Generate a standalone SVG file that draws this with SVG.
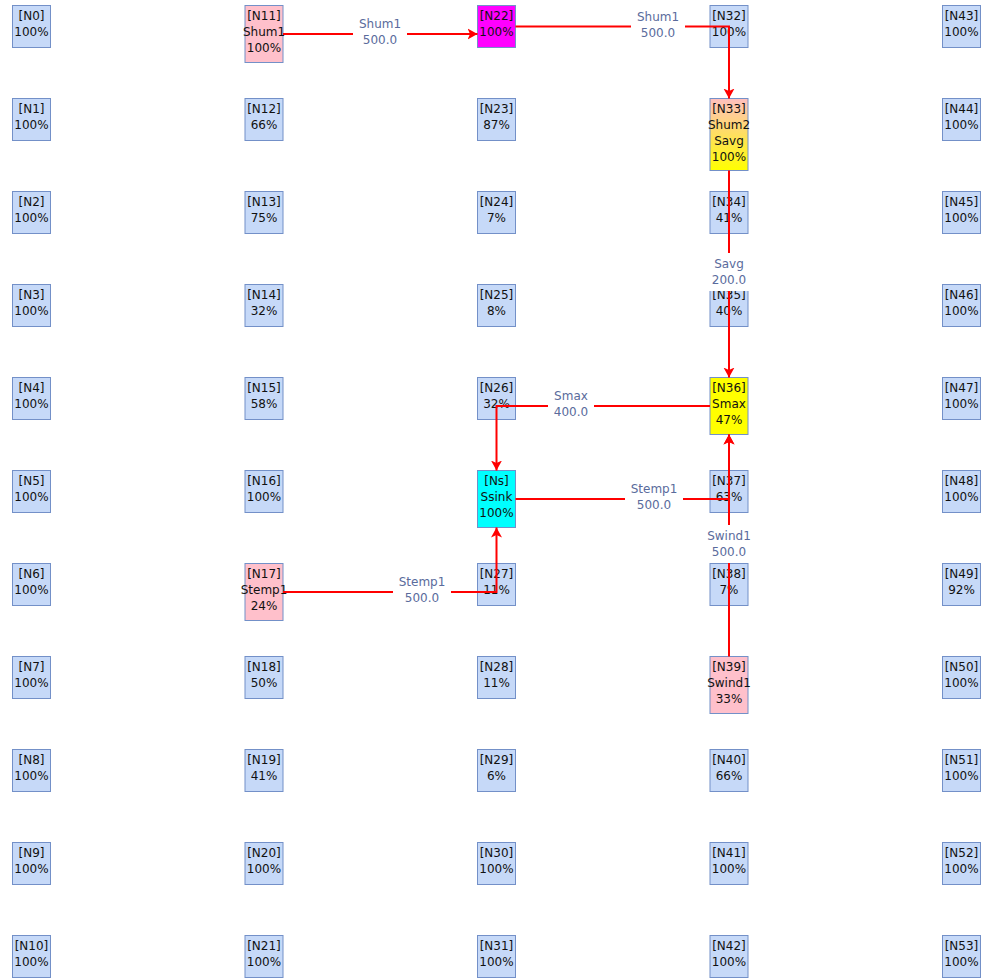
<svg xmlns="http://www.w3.org/2000/svg" width="981" height="980" viewBox="0 0 981 980">
<style>
.n rect{fill:#c6d9f8;stroke:#7390c8;stroke-width:1}
.n text{font-family:"DejaVu Sans",sans-serif;font-size:12px;fill:#111;text-anchor:middle}
.e{fill:none;stroke:#ff0000;stroke-width:2}
.lb rect{fill:#fff;stroke:none}
.lb text{font-family:"DejaVu Sans",sans-serif;font-size:12px;fill:#5a6b9c;text-anchor:middle}
</style>
<defs>
<marker id="ah" markerUnits="userSpaceOnUse" markerWidth="12" markerHeight="12" viewBox="0 -6 12 12" refX="10" refY="0" orient="auto">
<path d="M0,-5.5 L10,0 L0,5.5 L2.5,0 z" fill="#ff0000"/>
</marker>
<linearGradient id="g33" x1="0" y1="0" x2="0" y2="1">
<stop offset="0" stop-color="#ffbfc0"/>
<stop offset="1" stop-color="#ffff00"/>
</linearGradient>
</defs>
<rect width="981" height="980" fill="#fff"/>
<g id="nodes">
<g id="N0" class="n"><rect x="12.5" y="5.5" width="38" height="42"/><text x="31.5" y="20.3">[N0]</text><text x="31.5" y="36.3">100%</text></g>
<g id="N1" class="n"><rect x="12.5" y="98.5" width="38" height="42"/><text x="31.5" y="113.3">[N1]</text><text x="31.5" y="129.3">100%</text></g>
<g id="N2" class="n"><rect x="12.5" y="191.5" width="38" height="42"/><text x="31.5" y="206.3">[N2]</text><text x="31.5" y="222.3">100%</text></g>
<g id="N3" class="n"><rect x="12.5" y="284.5" width="38" height="42"/><text x="31.5" y="299.3">[N3]</text><text x="31.5" y="315.3">100%</text></g>
<g id="N4" class="n"><rect x="12.5" y="377.5" width="38" height="42"/><text x="31.5" y="392.3">[N4]</text><text x="31.5" y="408.3">100%</text></g>
<g id="N5" class="n"><rect x="12.5" y="470.5" width="38" height="42"/><text x="31.5" y="485.3">[N5]</text><text x="31.5" y="501.3">100%</text></g>
<g id="N6" class="n"><rect x="12.5" y="563.5" width="38" height="42"/><text x="31.5" y="578.3">[N6]</text><text x="31.5" y="594.3">100%</text></g>
<g id="N7" class="n"><rect x="12.5" y="656.5" width="38" height="42"/><text x="31.5" y="671.3">[N7]</text><text x="31.5" y="687.3">100%</text></g>
<g id="N8" class="n"><rect x="12.5" y="749.5" width="38" height="42"/><text x="31.5" y="764.3">[N8]</text><text x="31.5" y="780.3">100%</text></g>
<g id="N9" class="n"><rect x="12.5" y="842.5" width="38" height="42"/><text x="31.5" y="857.3">[N9]</text><text x="31.5" y="873.3">100%</text></g>
<g id="N10" class="n"><rect x="12.5" y="935.5" width="38" height="42"/><text x="31.5" y="950.3">[N10]</text><text x="31.5" y="966.3">100%</text></g>

<g id="N11" class="n"><rect x="245" y="5.5" width="38" height="57" style="fill:#ffc0cb"/><text x="264" y="20.3">[N11]</text><text x="264" y="36.3">Shum1</text><text x="264" y="52.3">100%</text></g>
<g id="N12" class="n"><rect x="245" y="98.5" width="38" height="42"/><text x="264" y="113.3">[N12]</text><text x="264" y="129.3">66%</text></g>
<g id="N13" class="n"><rect x="245" y="191.5" width="38" height="42"/><text x="264" y="206.3">[N13]</text><text x="264" y="222.3">75%</text></g>
<g id="N14" class="n"><rect x="245" y="284.5" width="38" height="42"/><text x="264" y="299.3">[N14]</text><text x="264" y="315.3">32%</text></g>
<g id="N15" class="n"><rect x="245" y="377.5" width="38" height="42"/><text x="264" y="392.3">[N15]</text><text x="264" y="408.3">58%</text></g>
<g id="N16" class="n"><rect x="245" y="470.5" width="38" height="42"/><text x="264" y="485.3">[N16]</text><text x="264" y="501.3">100%</text></g>
<g id="N17" class="n"><rect x="245" y="563.5" width="38" height="57" style="fill:#ffc0cb"/><text x="264" y="578.3">[N17]</text><text x="264" y="594.3">Stemp1</text><text x="264" y="610.3">24%</text></g>
<g id="N18" class="n"><rect x="245" y="656.5" width="38" height="42"/><text x="264" y="671.3">[N18]</text><text x="264" y="687.3">50%</text></g>
<g id="N19" class="n"><rect x="245" y="749.5" width="38" height="42"/><text x="264" y="764.3">[N19]</text><text x="264" y="780.3">41%</text></g>
<g id="N20" class="n"><rect x="245" y="842.5" width="38" height="42"/><text x="264" y="857.3">[N20]</text><text x="264" y="873.3">100%</text></g>
<g id="N21" class="n"><rect x="245" y="935.5" width="38" height="42"/><text x="264" y="950.3">[N21]</text><text x="264" y="966.3">100%</text></g>

<g id="N22" class="n"><rect x="477.5" y="5.5" width="38" height="42" style="fill:#ff00ff"/><text x="496.5" y="20.3">[N22]</text><text x="496.5" y="36.3">100%</text></g>
<g id="N23" class="n"><rect x="477.5" y="98.5" width="38" height="42"/><text x="496.5" y="113.3">[N23]</text><text x="496.5" y="129.3">87%</text></g>
<g id="N24" class="n"><rect x="477.5" y="191.5" width="38" height="42"/><text x="496.5" y="206.3">[N24]</text><text x="496.5" y="222.3">7%</text></g>
<g id="N25" class="n"><rect x="477.5" y="284.5" width="38" height="42"/><text x="496.5" y="299.3">[N25]</text><text x="496.5" y="315.3">8%</text></g>
<g id="N26" class="n"><rect x="477.5" y="377.5" width="38" height="42"/><text x="496.5" y="392.3">[N26]</text><text x="496.5" y="408.3">32%</text></g>
<g id="Ns" class="n"><rect x="477.5" y="470.5" width="38" height="57" style="fill:#00ffff"/><text x="496.5" y="485.3">[Ns]</text><text x="496.5" y="501.3">Ssink</text><text x="496.5" y="517.3">100%</text></g>
<g id="N27" class="n"><rect x="477.5" y="563.5" width="38" height="42"/><text x="496.5" y="578.3">[N27]</text><text x="496.5" y="594.3">11%</text></g>
<g id="N28" class="n"><rect x="477.5" y="656.5" width="38" height="42"/><text x="496.5" y="671.3">[N28]</text><text x="496.5" y="687.3">11%</text></g>
<g id="N29" class="n"><rect x="477.5" y="749.5" width="38" height="42"/><text x="496.5" y="764.3">[N29]</text><text x="496.5" y="780.3">6%</text></g>
<g id="N30" class="n"><rect x="477.5" y="842.5" width="38" height="42"/><text x="496.5" y="857.3">[N30]</text><text x="496.5" y="873.3">100%</text></g>
<g id="N31" class="n"><rect x="477.5" y="935.5" width="38" height="42"/><text x="496.5" y="950.3">[N31]</text><text x="496.5" y="966.3">100%</text></g>

<g id="N32" class="n"><rect x="710" y="5.5" width="38" height="42"/><text x="729" y="20.3">[N32]</text><text x="729" y="36.3">100%</text></g>
<g id="N33" class="n"><rect x="710" y="98.5" width="38" height="72" style="fill:url(#g33)"/><text x="729" y="113.3">[N33]</text><text x="729" y="129.3">Shum2</text><text x="729" y="145.3">Savg</text><text x="729" y="161.3">100%</text></g>
<g id="N34" class="n"><rect x="710" y="191.5" width="38" height="42"/><text x="729" y="206.3">[N34]</text><text x="729" y="222.3">41%</text></g>
<g id="N35" class="n"><rect x="710" y="284.5" width="38" height="42"/><text x="729" y="299.3">[N35]</text><text x="729" y="315.3">40%</text></g>
<g id="N36" class="n"><rect x="710" y="377.5" width="38" height="57" style="fill:#ffff00"/><text x="729" y="392.3">[N36]</text><text x="729" y="408.3">Smax</text><text x="729" y="424.3">47%</text></g>
<g id="N37" class="n"><rect x="710" y="470.5" width="38" height="42"/><text x="729" y="485.3">[N37]</text><text x="729" y="501.3">63%</text></g>
<g id="N38" class="n"><rect x="710" y="563.5" width="38" height="42"/><text x="729" y="578.3">[N38]</text><text x="729" y="594.3">7%</text></g>
<g id="N39" class="n"><rect x="710" y="656.5" width="38" height="57" style="fill:#ffc0cb"/><text x="729" y="671.3">[N39]</text><text x="729" y="687.3">Swind1</text><text x="729" y="703.3">33%</text></g>
<g id="N40" class="n"><rect x="710" y="749.5" width="38" height="42"/><text x="729" y="764.3">[N40]</text><text x="729" y="780.3">66%</text></g>
<g id="N41" class="n"><rect x="710" y="842.5" width="38" height="42"/><text x="729" y="857.3">[N41]</text><text x="729" y="873.3">100%</text></g>
<g id="N42" class="n"><rect x="710" y="935.5" width="38" height="42"/><text x="729" y="950.3">[N42]</text><text x="729" y="966.3">100%</text></g>

<g id="N43" class="n"><rect x="942.5" y="5.5" width="38" height="42"/><text x="961.5" y="20.3">[N43]</text><text x="961.5" y="36.3">100%</text></g>
<g id="N44" class="n"><rect x="942.5" y="98.5" width="38" height="42"/><text x="961.5" y="113.3">[N44]</text><text x="961.5" y="129.3">100%</text></g>
<g id="N45" class="n"><rect x="942.5" y="191.5" width="38" height="42"/><text x="961.5" y="206.3">[N45]</text><text x="961.5" y="222.3">100%</text></g>
<g id="N46" class="n"><rect x="942.5" y="284.5" width="38" height="42"/><text x="961.5" y="299.3">[N46]</text><text x="961.5" y="315.3">100%</text></g>
<g id="N47" class="n"><rect x="942.5" y="377.5" width="38" height="42"/><text x="961.5" y="392.3">[N47]</text><text x="961.5" y="408.3">100%</text></g>
<g id="N48" class="n"><rect x="942.5" y="470.5" width="38" height="42"/><text x="961.5" y="485.3">[N48]</text><text x="961.5" y="501.3">100%</text></g>
<g id="N49" class="n"><rect x="942.5" y="563.5" width="38" height="42"/><text x="961.5" y="578.3">[N49]</text><text x="961.5" y="594.3">92%</text></g>
<g id="N50" class="n"><rect x="942.5" y="656.5" width="38" height="42"/><text x="961.5" y="671.3">[N50]</text><text x="961.5" y="687.3">100%</text></g>
<g id="N51" class="n"><rect x="942.5" y="749.5" width="38" height="42"/><text x="961.5" y="764.3">[N51]</text><text x="961.5" y="780.3">100%</text></g>
<g id="N52" class="n"><rect x="942.5" y="842.5" width="38" height="42"/><text x="961.5" y="857.3">[N52]</text><text x="961.5" y="873.3">100%</text></g>
<g id="N53" class="n"><rect x="942.5" y="935.5" width="38" height="42"/><text x="961.5" y="950.3">[N53]</text><text x="961.5" y="966.3">100%</text></g>
</g>
<g id="connectors">
<path class="e" d="M283,34 H477.5" marker-end="url(#ah)"/>
<path class="e" d="M515.5,26.5 H729 V98.5" marker-end="url(#ah)"/>
<path class="e" d="M729,170.5 V377.5" marker-end="url(#ah)"/>
<path class="e" d="M710,406 H496.5 V470.5" marker-end="url(#ah)"/>
<path class="e" d="M283,592 H496.5 V527.5" marker-end="url(#ah)"/>
<path class="e" d="M515.5,499 H729 V434.5" marker-end="url(#ah)"/>
<path class="e" d="M729,656.5 V434.5" marker-end="url(#ah)"/>
<g class="lb"><rect x="353" y="13" width="54" height="38"/><text x="380" y="27.5">Shum1</text><text x="380" y="43.5">500.0</text></g>
<g class="lb"><rect x="631" y="5.5" width="54" height="38"/><text x="658" y="20.5">Shum1</text><text x="658" y="36.5">500.0</text></g>
<g class="lb"><rect x="706" y="253" width="46" height="38"/><text x="729" y="268">Savg</text><text x="729" y="284">200.0</text></g>
<g class="lb"><rect x="548" y="385" width="46" height="38"/><text x="571" y="400">Smax</text><text x="571" y="416">400.0</text></g>
<g class="lb"><rect x="393" y="571" width="58" height="38"/><text x="422" y="586">Stemp1</text><text x="422" y="602">500.0</text></g>
<g class="lb"><rect x="625" y="478" width="58" height="38"/><text x="654" y="493">Stemp1</text><text x="654" y="509">500.0</text></g>
<g class="lb"><rect x="701.5" y="525" width="55" height="38"/><text x="729" y="540">Swind1</text><text x="729" y="556">500.0</text></g>
</g>
</svg>
